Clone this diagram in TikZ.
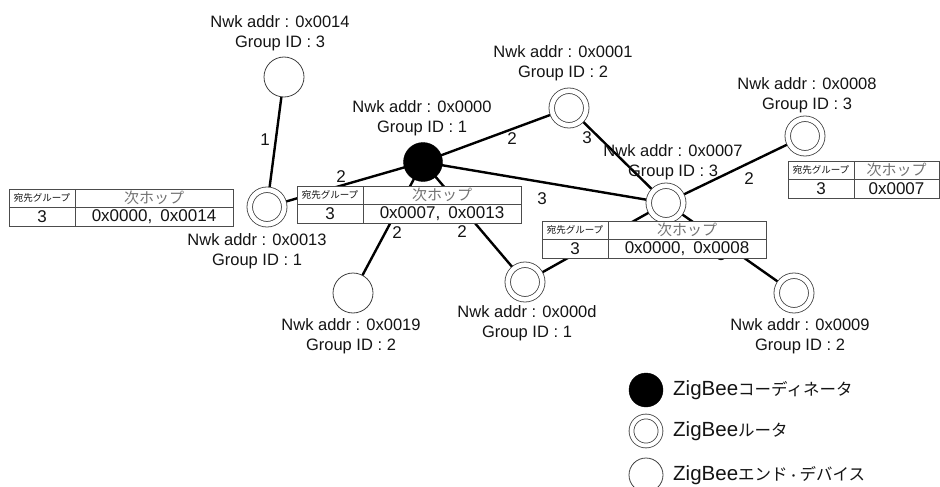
\documentclass[tikz,border=0pt]{standalone}
\usepackage{fontspec}
\setmainfont{Liberation Sans}
\newfontfamily\cjk{Noto Sans CJK JP}
\pgfdeclarelayer{edges}
\pgfdeclarelayer{tables}
\pgfsetlayers{edges,main,tables}
\tikzset{
  lbl/.style={align=center, font=\fontsize{16.5}{20.5}\selectfont, text=black!92, inner sep=0pt},
  enddev/.style={circle, draw=black!75, line width=0.8pt, fill=white, minimum size=40pt, inner sep=0pt},
  router/.style={circle, draw=black!75, line width=0.8pt, double=white, double distance=4.7pt, fill=white, minimum size=34.5pt, inner sep=0pt},
  coordn/.style={circle, fill=black, draw=black, minimum size=39pt, inner sep=0pt},
  link/.style={line width=2.4pt, black},
  hop/.style={font=\fontsize{17}{17}\selectfont, text=black!92, inner sep=0pt},
  cell/.style={draw=black!70, line width=0.8pt, fill=white, inner sep=0pt, outer sep=0pt, anchor=north west, text=black!92},
  legtxt/.style={anchor=west, font=\fontsize{20.5}{20.5}\selectfont, text=black!92, inner sep=0pt},
}
\newcommand{\rtab}[5]{%
  \node[cell, minimum width=66pt, minimum height=18pt, font=\cjk\fontsize{9.5}{9.5}\selectfont] (#1a) at (#2,#3) {宛先グループ};
  \node[cell, minimum width=#4pt, minimum height=18pt, font=\cjk\fontsize{15}{15}\selectfont, text=black!55] (#1b) at (#1a.north east) {次ホップ};
  \node[cell, minimum width=66pt, minimum height=19.5pt, font=\fontsize{17}{17}\selectfont] (#1c) at (#1a.south west) {3};
  \node[cell, minimum width=#4pt, minimum height=19.5pt, font=\fontsize{17}{17}\selectfont] (#1d) at (#1b.south west) {#5};
}
\begin{document}
\begin{tikzpicture}[x=1pt, y=-1pt]
\useasboundingbox (0,0) rectangle (940,487);
% devices
\node[enddev] (n14) at (284,77) {};
\node[router] (n13) at (267,207) {};
\node[coordn] (n00) at (423,162) {};
\node[router] (n01) at (569,108) {};
\node[router] (n07) at (666,203) {};
\node[router] (n08) at (805,136) {};
\node[enddev] (n19) at (353,293) {};
\node[router] (n0d) at (525,282) {};
\node[router] (n09) at (794,293) {};
% device labels
\node[lbl] (t14) at (280,33) {Nwk addr : 0x0014\\Group ID : 3};
\node[lbl] (t13) at (257,251) {Nwk addr : 0x0013\\Group ID : 1};
\node[lbl] (t00) at (422,118) {Nwk addr : 0x0000\\Group ID : 1};
\node[lbl] (t01) at (563,63) {Nwk addr : 0x0001\\Group ID : 2};
\node[lbl] (t07) at (673,162) {Nwk addr : 0x0007\\Group ID : 3};
\node[lbl] (t08) at (807,95) {Nwk addr : 0x0008\\Group ID : 3};
\node[lbl] (t19) at (351,336) {Nwk addr : 0x0019\\Group ID : 2};
\node[lbl] (t0d) at (527,323) {Nwk addr : 0x000d\\Group ID : 1};
\node[lbl] (t09) at (800,336) {Nwk addr : 0x0009\\Group ID : 2};
% links and hop counts
\begin{pgfonlayer}{edges}
\draw[link] (n14.center) -- (n13.center);
\draw[link] (n13.center) -- (n00.center);
\draw[link] (n00.center) -- (n01.center);
\draw[link] (n00.center) -- (n07.center);
\draw[link] (n01.center) -- (n07.center);
\draw[link] (n07.center) -- (n08.center);
\draw[link] (n00.center) -- (n19.center);
\draw[link] (n00.center) -- (n0d.center);
\draw[link] (n07.center) -- (n0d.center);
\draw[link] (n07.center) -- (n09.center);
\node[hop] (h1) at (265,140) {1};
\node[hop] (h2) at (341,177) {2};
\node[hop] (h3) at (512,139) {2};
\node[hop] (h4) at (587,138) {3};
\node[hop] (h5) at (542,199) {3};
\node[hop] (h6) at (749,179) {2};
\node[hop] (h7) at (397,233) {2};
\node[hop] (h8) at (462,232) {2};
\node[hop] (h9) at (721,255) {3};
\end{pgfonlayer}
% routing tables
\begin{pgfonlayer}{tables}
\rtab{tA}{9}{189}{158}{0x0000,\hspace{3.5pt} 0x0014}
\rtab{tB}{297}{186}{158}{0x0007,\hspace{3.5pt} 0x0013}
\rtab{tC}{542}{221}{158}{0x0000,\hspace{3.5pt} 0x0008}
\rtab{tD}{788}{161}{85}{0x0007}
\end{pgfonlayer}
% legend
\node[coordn, minimum size=34pt] (lc) at (646,390) {};
\node[router, minimum size=29pt, double distance=4pt] (lr) at (646,431) {};
\node[enddev, minimum size=34pt] (le) at (646,475) {};
\node[legtxt] (lct) at (673,390) {ZigBee{\cjk\fontsize{16.5}{16.5}\selectfont コーディネータ}};
\node[legtxt] (lrt) at (673,431) {ZigBee{\cjk\fontsize{16.5}{16.5}\selectfont ルータ}};
\node[legtxt] (let) at (673,475) {ZigBee{\cjk\fontsize{16.5}{16.5}\selectfont エンド{\fontsize{12}{12}\selectfont ・}デバイス}};
\end{tikzpicture}
\end{document}
